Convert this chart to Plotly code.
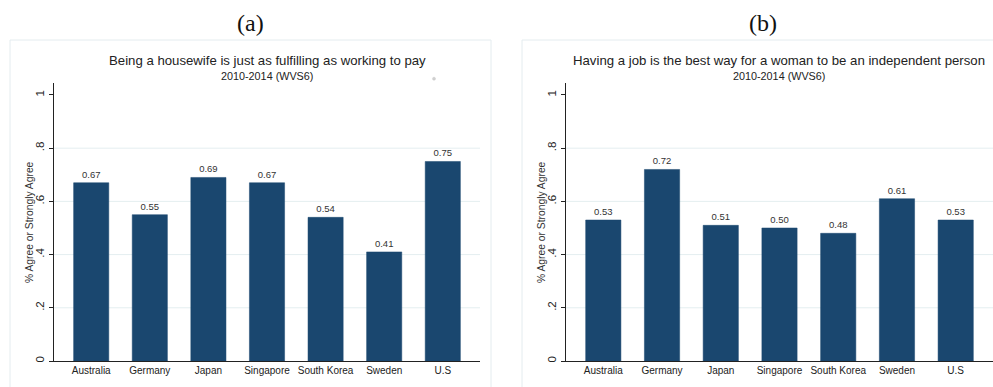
import plotly.graph_objects as go

# Survey data: share answering "Agree" or "Strongly agree", WVS wave 6 (2010-2014)
countries = ["Australia", "Germany", "Japan", "Singapore", "South Korea", "Sweden", "U.S"]
housewife_fulfilling = [0.67, 0.55, 0.69, 0.67, 0.54, 0.41, 0.75]
job_independent = [0.53, 0.72, 0.51, 0.50, 0.48, 0.61, 0.53]

panel_titles = [
    "Being a housewife is just as fulfilling as working to pay",
    "Having a job is the best way for a woman to be an independent person",
]
panel_letters = ["(a)", "(b)"]
subtitle = "2010-2014 (WVS6)"
y_title = "% Agree or Strongly Agree"
y_ticks = [0, 0.2, 0.4, 0.6, 0.8, 1.0]
y_ticklabels = ["0", ".2", ".4", ".6", ".8", "1"]

W, H = 993, 387
BAR = "#1a476f"
INK = "#222222"
SANS = "Liberation Sans, Arial, sans-serif"

fig = go.Figure()

for i, vals in enumerate([housewife_fulfilling, job_independent]):
    sfx = "" if i == 0 else "2"
    fig.add_trace(go.Bar(
        x=countries, y=vals,
        xaxis="x" + sfx, yaxis="y" + sfx,
        marker=dict(color=BAR, line=dict(color=BAR, width=0.5)),
        width=0.6,
        texttemplate="%{y:.2f}", textposition="outside",
        textfont=dict(family=SANS, size=9.5, color="#333333"),
        cliponaxis=False, showlegend=False, hoverinfo="x+y",
    ))

px = lambda v: v / W
py = lambda v: 1 - v / H

y_dom = [py(361), py(83)]
x_doms = [[px(54), px(480)], [px(566), px(993)]]

axis_common = dict(showline=True, linecolor=INK, linewidth=1, zeroline=False)
for i in range(2):
    sfx = "" if i == 0 else "2"
    fig.update_layout(**{
        "xaxis" + sfx: dict(
            domain=x_doms[i], anchor="y" + sfx, range=[-0.635, 6.635],
            showgrid=False, ticks="", tickfont=dict(family=SANS, size=10, color=INK),
            **axis_common,
        ),
        "yaxis" + sfx: dict(
            domain=y_dom, anchor="x" + sfx, range=[0, 1.045],
            tickvals=y_ticks, ticktext=y_ticklabels,
            tickangle=-90, ticks="outside", ticklen=4, tickcolor=INK,
            tickfont=dict(family=SANS, size=11.5, color=INK),
            showgrid=False,
            **axis_common,
        ),
    })

    # light horizontal grid at interior ticks
    for t in y_ticks[1:-1]:
        fig.add_shape(type="line", xref="x" + sfx + " domain", yref="y" + sfx,
                      x0=0, x1=1, y0=t, y1=t, line=dict(color="#e4eef0", width=1), layer="below")

# panel frames
frames = [(10, 491), (522, 1004)]
for x0, x1 in frames:
    fig.add_shape(type="rect", xref="paper", yref="paper",
                  x0=px(x0), x1=px(x1), y0=py(395), y1=py(40),
                  line=dict(color="#e4ecef", width=1), fillcolor="rgba(0,0,0,0)", layer="below")

# stray marker in panel (a) plot region
fig.add_shape(type="circle", xref="paper", yref="paper",
              x0=px(432.5), x1=px(435.5), y0=py(80.2), y1=py(77.2),
              line=dict(color="#c8c8c8", width=0.5), fillcolor="#d0d0d0")

letter_x = [250, 763]
title_x = [267, 778.5]
ytitle_x = [29, 541]
for i in range(2):
    fig.add_annotation(text=panel_letters[i], xref="paper", yref="paper",
                       x=px(letter_x[i]), y=py(23), xanchor="center", yanchor="middle",
                       showarrow=False,
                       font=dict(family="Liberation Serif, serif", size=24, color="#111111"))
    fig.add_annotation(text=panel_titles[i], xref="paper", yref="paper",
                       x=px(title_x[i]), y=py(60), xanchor="center", yanchor="middle",
                       showarrow=False,
                       font=dict(family=SANS, size=13.2, color=INK))
    fig.add_annotation(text=subtitle, xref="paper", yref="paper",
                       x=px(title_x[i]), y=py(75.5), xanchor="center", yanchor="middle",
                       showarrow=False,
                       font=dict(family=SANS, size=10.8, color=INK))
    fig.add_annotation(text=y_title, xref="paper", yref="paper", textangle=-90,
                       x=px(ytitle_x[i]), y=py(222), xanchor="center", yanchor="middle",
                       showarrow=False,
                       font=dict(family=SANS, size=10.3, color="#333333"))

fig.update_layout(
    width=W, height=H, margin=dict(l=0, r=0, t=0, b=0),
    paper_bgcolor="white", plot_bgcolor="white",
    bargap=0.4,
)

fig.write_html("out.html")
